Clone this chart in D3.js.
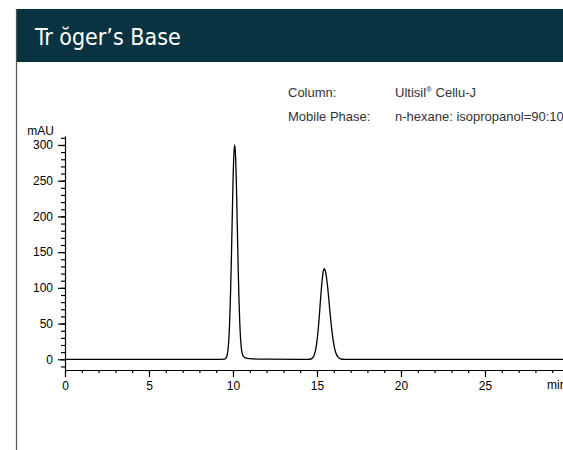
<!DOCTYPE html>
<html><head><meta charset="utf-8">
<script src="https://cdn.jsdelivr.net/npm/d3@7"></script>
<style>
html,body{margin:0;padding:0;background:#fff;overflow:hidden;}
svg{display:block;}
</style></head>
<body>
<script>
const title = "Tr ŏger’s Base";
const infoLabels = ["Column:", "Mobile Phase:"];
const infoValues = ["Ultisil® Cellu-J", "n-hexane: isopropanol=90:10"];
const yTicks = [0, 50, 100, 150, 200, 250, 300];
const xTicks = [0, 5, 10, 15, 20, 25];
const yUnit = "mAU";
const xUnit = "min";
// chromatogram: retention time (min) and absorbance (mAU)
const times = [0, 5, 9.0, 9.5, 9.6, 9.65, 9.7, 9.75, 9.8, 9.85, 9.9, 9.95, 10.0, 10.05, 10.1, 10.15, 10.2, 10.25, 10.3, 10.35, 10.4, 10.45, 10.5, 10.55, 10.6, 10.7, 10.8, 11.0, 11.5, 12.0, 14.0, 14.5, 14.63, 14.73, 14.83, 14.93, 15.03, 15.08, 15.13, 15.18, 15.23, 15.28, 15.33, 15.38, 15.43, 15.48, 15.53, 15.58, 15.63, 15.68, 15.73, 15.78, 15.83, 15.93, 16.03, 16.13, 16.23, 16.33, 16.43, 16.6, 20, 25, 30];
const mAU   = [0, 0, 0, 0.3, 2.3, 6, 13, 27, 52, 89, 137, 193, 247, 286, 300, 286, 247, 193, 137, 89, 53, 29, 15, 8, 5, 2.5, 1.5, 0.8, 0.3, 0.2, 0, 0, 0.4, 1.8, 5.6, 14.5, 32, 44, 58, 74, 90, 104.5, 116, 124, 127, 125, 120, 112, 102, 90, 77, 64, 52, 32, 17, 8.4, 3.6, 1.4, 0.4, 0, 0, 0, 0];

const W = 563, H = 450;
const svg = d3.select("body").append("svg").attr("width", W).attr("height", H);

// header band
svg.append("rect").attr("x", 16).attr("y", 9).attr("width", W - 16).attr("height", 53).attr("fill", "#0a3341");
svg.append("line").attr("x1", 16.5).attr("x2", 16.5).attr("y1", 9).attr("y2", H).attr("stroke", "#555").attr("stroke-width", 1.2);
svg.append("text").attr("x", 35).attr("y", 45).attr("fill", "#fff")
  .attr("font-family", "'Liberation Sans Narrow','DejaVu Sans Condensed',sans-serif")
  .attr("font-size", 23).text(title);

// info
const info = svg.append("g").attr("font-family", "'Liberation Sans',Arial,sans-serif").attr("font-size", 13).attr("fill", "#333");
infoLabels.forEach((t, i) => {
  info.append("text").attr("x", 288).attr("y", 97 + i * 24).text(t);
  const v = info.append("text").attr("x", 395).attr("y", 97 + i * 24);
  const parts = infoValues[i].split("®");
  v.append("tspan").text(parts[0]);
  if (parts.length > 1) {
    v.append("tspan").attr("font-size", 8).attr("dy", -5).text("®");
    v.append("tspan").attr("dy", 5).text(parts[1]);
  }
});

// scales
const x = d3.scaleLinear().domain([0, 30]).range([65, 569]);
const y = d3.scaleLinear().domain([-15, 312]).range([370, 136.4]);

const axisFont = "'Liberation Sans',Arial,sans-serif";
// y axis
const gy = svg.append("g").attr("transform", "translate(65,0)");
gy.call(d3.axisLeft(y).tickValues(d3.range(-10, 311, 10)).tickSize(4).tickFormat(""));
gy.call(g => g.selectAll(".tick line").attr("stroke", "#000").attr("stroke-width", 1.2));
gy.select(".domain").attr("d", `M0.5,${y(-15)}V${y(312)}`).attr("stroke", "#000").attr("stroke-width", 1.2);
const gyMajor = svg.append("g").attr("transform", "translate(65,0)");
gyMajor.call(d3.axisLeft(y).tickValues(yTicks).tickSize(7).tickPadding(5));
gyMajor.select(".domain").remove();
gyMajor.selectAll(".tick line").attr("stroke", "#000").attr("stroke-width", 1.2);
gyMajor.selectAll(".tick text").attr("font-family", axisFont).attr("font-size", 12).attr("fill", "#000");
svg.append("text").attr("x", 54).attr("y", 135).attr("text-anchor", "end")
  .attr("font-family", axisFont).attr("font-size", 12).text(yUnit);

// x axis
const gx = svg.append("g").attr("transform", `translate(0,${y(-15)})`);
gx.call(d3.axisBottom(x).tickValues(d3.range(0, 30, 1)).tickSize(3).tickFormat(""));
gx.select(".domain").attr("d", `M${x(0)},0.5H${W}`).attr("stroke", "#000").attr("stroke-width", 1.2);
gx.selectAll(".tick line").attr("stroke", "#000").attr("stroke-width", 1.2);
const gxMajor = svg.append("g").attr("transform", `translate(0,${y(-15)})`);
gxMajor.call(d3.axisBottom(x).tickValues(xTicks).tickSize(7).tickPadding(4));
gxMajor.select(".domain").remove();
gxMajor.selectAll(".tick line").attr("stroke", "#000").attr("stroke-width", 1.2);
gxMajor.selectAll(".tick text").attr("font-family", axisFont).attr("font-size", 12).attr("fill", "#000");
svg.append("text").attr("x", 547).attr("y", 389).attr("font-family", axisFont).attr("font-size", 12).text(xUnit);

// trace
const data = times.map((t, i) => [t, mAU[i]]);
svg.append("path").datum(data)
  .attr("d", d3.line().x(d => x(d[0])).y(d => y(d[1])).curve(d3.curveMonotoneX))
  .attr("fill", "none").attr("stroke", "#000").attr("stroke-width", 1.3);
</script>
</body></html>
